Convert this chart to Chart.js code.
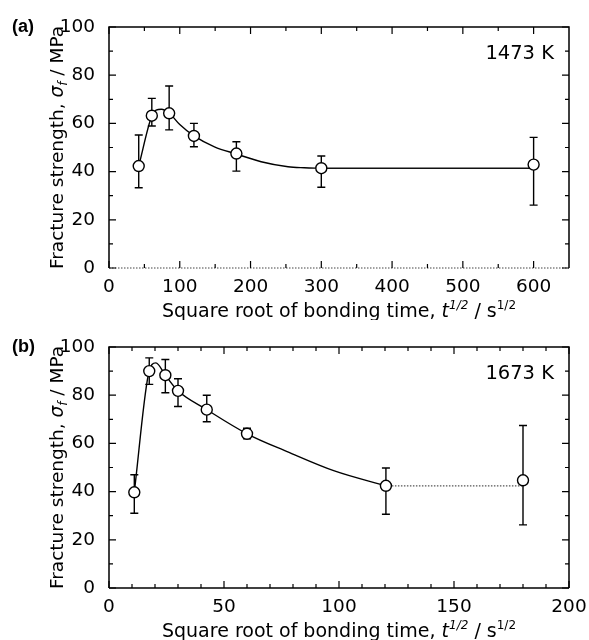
<!DOCTYPE html>
<html><head><meta charset="utf-8">
<script src="https://cdn.jsdelivr.net/npm/chart.js@4/dist/chart.umd.min.js"></script>
<style>
body{margin:0;background:#fff;width:589px;height:640px;overflow:hidden;position:relative}
.w{position:absolute;left:0;width:589px;height:320px}
canvas{display:block}
</style>
</head><body>
<div class="w" style="top:0"><canvas id="ca" width="589" height="320"></canvas></div>
<div class="w" style="top:320px"><canvas id="cb" width="589" height="320"></canvas></div>
<script>
// ---------- Panel (a): 1473 K ----------
const aX      = [42, 60.5, 85, 120, 180, 300, 600];
const aY      = [42.3, 63.2, 64.2, 54.8, 47.5, 41.4, 42.9];
const aErrHi  = [55.2, 70.4, 75.5, 60.0, 52.4, 46.5, 54.2];
const aErrLo  = [33.3, 58.9, 57.3, 50.3, 40.2, 33.5, 26.1];
const aFitX   = [42, 60.5, 66.5, 74, 85, 100, 120, 149, 180, 215, 253, 276, 300];
const aFitY   = [42.3, 63.2, 65.5, 65.9, 64.3, 59.5, 54.8, 50.3, 47.3, 44.1, 42.0, 41.6, 41.4];
const aFlatX  = [300, 600];
const aFlatY  = [41.4, 41.4];
const aXTicks = [0, 100, 200, 300, 400, 500, 600];
const aXMinor = [50, 150, 250, 350, 450, 550];
const aYTicks = [0, 20, 40, 60, 80, 100];
const aYMinor = [10, 30, 50, 70, 90];

// ---------- Panel (b): 1673 K ----------
const bX      = [11, 17.5, 24.5, 30, 42.5, 60, 120.4, 180];
const bY      = [39.7, 90, 88.3, 81.8, 74, 64, 42.4, 44.7];
const bErrHi  = [47, 95.5, 94.8, 86.8, 80, 66.3, 49.8, 67.4];
const bErrLo  = [31, 84.5, 81, 75.3, 69, 61.9, 30.6, 26.2];
const bFitX   = [11, 17, 20.4, 24.5, 30, 42.5, 60, 78, 98, 120.4];
const bFitY   = [39.7, 88, 93.4, 88.3, 81.8, 74, 64, 56.4, 48.6, 42.4];
const bFlatX  = [120.4, 180];
const bFlatY  = [42.4, 42.4];
const bXTicks = [0, 50, 100, 150, 200];
const bXMinor = [10, 20, 30, 40, 60, 70, 80, 90, 110, 120, 130, 140, 160, 170, 180, 190];
const bYTicks = [0, 20, 40, 60, 80, 100];
const bYMinor = [10, 30, 50, 70, 90];

const FONT = "'DejaVu Sans', sans-serif";

function pts(xs, ys){ return xs.map((v,i)=>({x:v, y:ys[i]})); }

function rich(ctx, parts, x, y, rot){
  ctx.save();
  ctx.translate(x, y);
  if (rot) ctx.rotate(rot*Math.PI/180);
  ctx.textBaseline = 'alphabetic';
  ctx.textAlign = 'left';
  let total = 0;
  parts.forEach(p=>{ ctx.font = (p.it?'italic ':'') + p.sz + 'px ' + FONT; p.w = ctx.measureText(p.t).width; total += p.w; });
  let cx = -total/2;
  parts.forEach(p=>{ ctx.font = (p.it?'italic ':'') + p.sz + 'px ' + FONT; ctx.fillText(p.t, cx, p.dy||0); cx += p.w; });
  ctx.restore();
}

const deco = {
  id: 'deco',
  beforeDatasetsDraw(chart, args, o){
    const {ctx, scales:{x, y}} = chart;
    ctx.save();
    ctx.strokeStyle = '#000'; ctx.lineWidth = 1.4;
    o.px.forEach((v,i)=>{
      const X = x.getPixelForValue(v), T = y.getPixelForValue(o.hi[i]), B = y.getPixelForValue(o.lo[i]);
      ctx.beginPath();
      ctx.moveTo(X, T); ctx.lineTo(X, B);
      ctx.moveTo(X-4, T); ctx.lineTo(X+4, T);
      ctx.moveTo(X-4, B); ctx.lineTo(X+4, B);
      ctx.stroke();
    });
    ctx.restore();
  },
  afterDraw(chart, args, o){
    const {ctx, chartArea:a, scales:{x, y}} = chart;
    ctx.save();
    ctx.strokeStyle = '#000'; ctx.lineWidth = 1.5;
    ctx.beginPath();
    ctx.moveTo(a.left, a.bottom); ctx.lineTo(a.left, a.top); ctx.lineTo(a.right, a.top); ctx.lineTo(a.right, a.bottom);
    ctx.stroke();
    ctx.save();
    if (o.dottedBottom){ ctx.strokeStyle = '#444'; ctx.lineWidth = 1.2; ctx.setLineDash([1.5,1.5]); }
    ctx.beginPath(); ctx.moveTo(a.left, a.bottom); ctx.lineTo(a.right, a.bottom); ctx.stroke();
    ctx.restore();
    ctx.lineWidth = 1.2;
    ctx.beginPath();
    const tx = (v, L)=>{ const X = x.getPixelForValue(v); ctx.moveTo(X, a.bottom); ctx.lineTo(X, a.bottom-L); ctx.moveTo(X, a.top); ctx.lineTo(X, a.top+L); };
    const ty = (v, L)=>{ const Y = y.getPixelForValue(v); ctx.moveTo(a.left, Y); ctx.lineTo(a.left+L, Y); ctx.moveTo(a.right, Y); ctx.lineTo(a.right-L, Y); };
    o.xMaj.forEach(v=>tx(v,7)); o.xMin.forEach(v=>tx(v,4));
    o.yMaj.forEach(v=>ty(v,7)); o.yMin.forEach(v=>ty(v,4));
    ctx.stroke();
    ctx.fillStyle = '#000';
    const cxm = (a.left+a.right)/2, cym = (a.top+a.bottom)/2;
    rich(ctx, [
      {t:'Square root of bonding time, ', sz:19},
      {t:'t', sz:19, it:true},
      {t:'1/2', sz:12, it:true, dy:-8},
      {t:' / s', sz:19},
      {t:'1/2', sz:12, dy:-8}
    ], cxm, a.bottom+48.5, 0);
    rich(ctx, [
      {t:'Fracture strength, ', sz:18.5},
      {t:'σ', sz:18.5, it:true},
      {t:'f', sz:12, it:true, dy:4},
      {t:' / MPa', sz:18.5}
    ], 63, cym, -90);
    ctx.font = "bold 18px 'Liberation Sans', sans-serif";
    ctx.textAlign = 'left'; ctx.textBaseline = 'middle';
    ctx.fillText(o.letter, 12, a.top);
    ctx.font = '19.5px ' + FONT;
    ctx.textAlign = 'right';
    ctx.fillText(o.temp, a.right-15, a.top+27);
    ctx.restore();
  }
};

function make(id, cfg){
  return new Chart(document.getElementById(id), {
    type: 'scatter',
    data: { datasets: [
      { data: pts(cfg.px, cfg.py), showLine:false, pointRadius:5.5, pointHoverRadius:5.5,
        pointBackgroundColor:'#fff', pointBorderColor:'#000', pointBorderWidth:1.4, order:0 },
      { data: pts(cfg.fx, cfg.fy), showLine:true, pointRadius:0, borderColor:'#000', borderWidth:1.4,
        cubicInterpolationMode:'monotone', order:1 },
      { data: pts(cfg.lx, cfg.ly), showLine:true, pointRadius:0, borderColor:cfg.flatColor, borderWidth:cfg.flatWidth,
        borderDash:cfg.flatDash, order:2 }
    ]},
    options: {
      responsive:false, animation:false, devicePixelRatio:1,
      layout:{ padding:{ top:27, right:20, left:0, bottom:0 } },
      plugins:{ legend:{display:false}, tooltip:{enabled:false},
        deco:{ px:cfg.px, hi:cfg.hi, lo:cfg.lo, xMaj:cfg.xMaj, xMin:cfg.xMin, yMaj:cfg.yMaj, yMin:cfg.yMin,
               letter:cfg.letter, temp:cfg.temp, dottedBottom:cfg.dottedBottom } },
      scales:{
        x:{ type:'linear', min:0, max:cfg.xmax, grid:{display:false}, border:{display:false},
            afterBuildTicks:s=>{ s.ticks = cfg.xMaj.map(v=>({value:v})); },
            afterFit:s=>{ s.height = 52; },
            ticks:{ color:'#000', font:{family:FONT, size:18.5}, padding:0, maxRotation:0, autoSkip:false } },
        y:{ type:'linear', min:0, max:100, grid:{display:false}, border:{display:false},
            afterBuildTicks:s=>{ s.ticks = cfg.yMaj.map(v=>({value:v})); },
            afterFit:s=>{ s.width = 109; },
            ticks:{ color:'#000', font:{family:FONT, size:18.5}, padding:6, autoSkip:false } }
      }
    },
    plugins:[deco]
  });
}

make('ca', { px:aX, py:aY, hi:aErrHi, lo:aErrLo, fx:aFitX, fy:aFitY, lx:aFlatX, ly:aFlatY,
  flatColor:'#111', flatWidth:1.4, flatDash:[], dottedBottom:true,
  xmax:650, xMaj:aXTicks, xMin:aXMinor, yMaj:aYTicks, yMin:aYMinor, letter:'(a)', temp:'1473 K' });
make('cb', { px:bX, py:bY, hi:bErrHi, lo:bErrLo, fx:bFitX, fy:bFitY, lx:bFlatX, ly:bFlatY,
  flatColor:'#555', flatWidth:1.2, flatDash:[1.5,1.5], dottedBottom:false,
  xmax:200, xMaj:bXTicks, xMin:bXMinor, yMaj:bYTicks, yMin:bYMinor, letter:'(b)', temp:'1673 K' });
</script>
</body></html>
